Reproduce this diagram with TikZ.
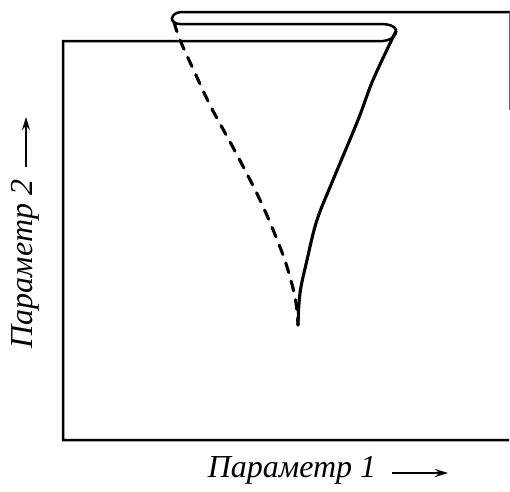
\documentclass[tikz,border=0pt]{standalone}
\usepackage{fontspec}
\setmainfont{Liberation Serif}
\usetikzlibrary{arrows.meta}
\begin{document}
\begin{tikzpicture}[x=1pt,y=-1pt,
  frame/.style={line width=2.5pt},
  curve/.style={line width=3.1pt, line cap=round, line join=round},
  dashcurve/.style={curve, dash pattern=on 10pt off 9pt},
  lbl/.style={font=\fontsize{32}{34}\selectfont\itshape, inner sep=0pt},
  axarrow/.style={line width=2pt, -{Stealth[length=13pt,width=8pt]}}]
\useasboundingbox (0,0) rectangle (510,491);
% frame
\draw[frame] (509,440) -- (63,440) -- (63,41) -- (383,41)
  .. controls (392,40) and (397,35) .. (396,30)
  .. controls (395,26) and (389,24) .. (380,24) -- (180,24)
  .. controls (173,24) and (170,19) .. (173,16)
  .. controls (175,13) and (178,12) .. (184,12) -- (510,12);
\draw[line width=1pt, black!60] (509,12) -- (509,110);
% fold curves
\draw[dashcurve] plot[smooth, tension=0.6] coordinates {(174,22) (180,40) (195,73) (211,107) (236,153) (260,200) (280,247) (290,277) (296,303) (298,325)};
\draw[curve] plot[smooth, tension=0.6] coordinates {(396,31) (373,80) (358,120) (333,180) (317,220) (307,260) (300,293) (298,325)};
% labels
\node[lbl, anchor=base] (p1) at (292,477) {Параметр 1};
\coordinate (p1s) at (392,473);
\coordinate (p1e) at (448,473);
\draw[axarrow] (p1s) -- (p1e);
\node[lbl, rotate=90, anchor=base] (p2) at (32,264) {Параметр 2};
\coordinate (p2s) at (26,167);
\coordinate (p2e) at (26,117);
\draw[axarrow] (p2s) -- (p2e);
\end{tikzpicture}
\end{document}
